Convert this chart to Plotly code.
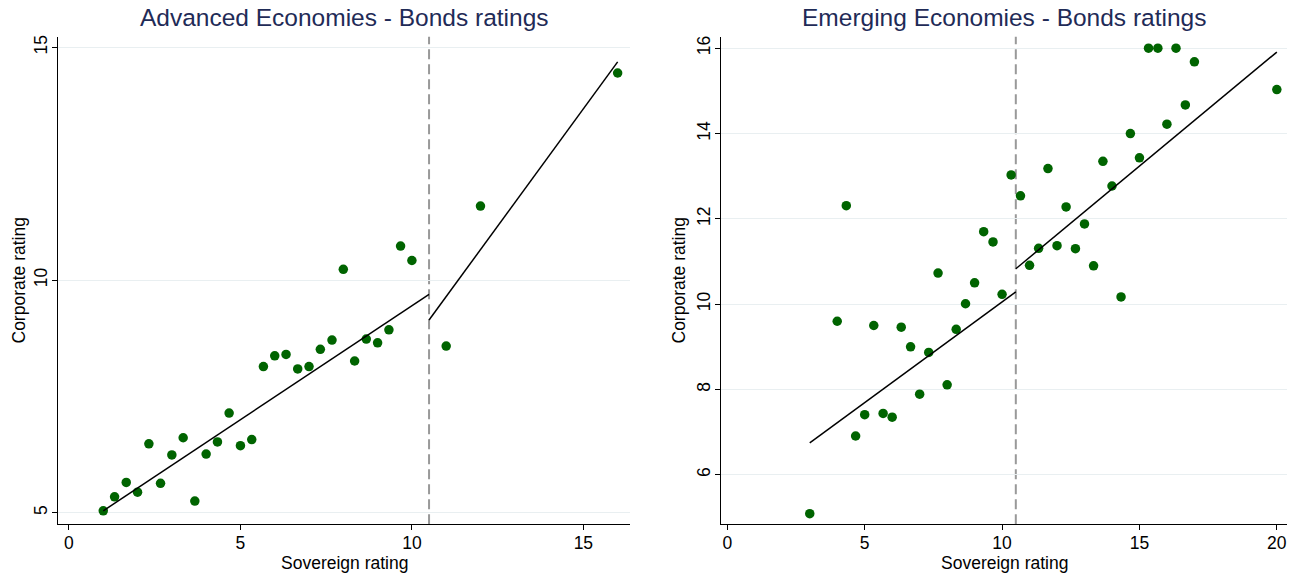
import plotly.graph_objects as go

# ---------------- Data ----------------
cutoff = 10.5

adv_sov = [1, 1.33, 1.67, 2, 2.33, 2.67, 3, 3.33, 3.67, 4, 4.33, 4.67, 5, 5.33, 5.67,
           6, 6.33, 6.67, 7, 7.33, 7.67, 8, 8.33, 8.67, 9, 9.33, 9.67, 10, 11, 12, 16]
adv_corp = [5.04, 5.34, 5.65, 5.44, 6.48, 5.63, 6.24, 6.61, 5.25, 6.26, 6.52, 7.14, 6.44, 6.57, 8.14,
            8.37, 8.40, 8.09, 8.14, 8.51, 8.71, 10.23, 8.26, 8.73, 8.65, 8.93, 10.73, 10.42, 8.58, 11.59, 14.45]
adv_fit_lo_x = [1, 10.5]
adv_fit_lo_y = [5.04, 9.69]
adv_fit_hi_x = [10.5, 16]
adv_fit_hi_y = [9.14, 14.69]

emg_sov = [3, 4, 4.33, 4.67, 5, 5.33, 5.67, 6, 6.33, 6.67, 7, 7.33, 7.67, 8, 8.33, 8.67, 9,
           9.33, 9.67, 10, 10.33, 10.67, 11, 11.33, 11.67, 12, 12.33, 12.67, 13, 13.33, 13.67,
           14, 14.33, 14.67, 15, 15.33, 15.67, 16, 16.33, 16.67, 17, 20]
emg_corp = [5.09, 9.60, 12.31, 6.91, 7.41, 9.50, 7.44, 7.35, 9.46, 9.00, 7.89, 8.87, 10.73, 8.11, 9.41, 10.01, 10.50,
            11.70, 11.46, 10.23, 13.03, 12.54, 10.91, 11.31, 13.18, 11.37, 12.28, 11.30, 11.88, 10.90, 13.35,
            12.77, 10.17, 14.00, 13.43, 16.0, 16.0, 14.22, 16.0, 14.67, 15.68, 15.03]
emg_fit_lo_x = [3, 10.5]
emg_fit_lo_y = [6.75, 10.29]
emg_fit_hi_x = [10.5, 20]
emg_fit_hi_y = [10.83, 15.91]

adv_xticks = [0, 5, 10, 15]
adv_yticks = [5, 10, 15]
emg_xticks = [0, 5, 10, 15, 20]
emg_yticks = [6, 8, 10, 12, 14, 16]

titles = ["Advanced Economies - Bonds ratings", "Emerging Economies - Bonds ratings"]
x_title = "Sovereign rating"
y_title = "Corporate rating"

# ---------------- Styles ----------------
W, H = 1302, 577
OFF = 0  # body margin is removed in the page (see post_script)
FONT = "Liberation Sans, Arial, sans-serif"
GREEN = "#006400"
TITLE_COLOR = "#1f2b57"
GRID = "#e9eff1"

fig = go.Figure()

def add_panel(xs, ys, fx1, fy1, fx2, fy2, xa, ya):
    fig.add_trace(go.Scatter(x=xs, y=ys, mode="markers", xaxis=xa, yaxis=ya,
                             marker=dict(color=GREEN, size=9.5, line=dict(width=0)),
                             showlegend=False, hoverinfo="x+y"))
    for fx, fy in ((fx1, fy1), (fx2, fy2)):
        fig.add_trace(go.Scatter(x=fx, y=fy, mode="lines", xaxis=xa, yaxis=ya,
                                 line=dict(color="black", width=1.5),
                                 showlegend=False, hoverinfo="skip"))

add_panel(adv_sov, adv_corp, adv_fit_lo_x, adv_fit_lo_y, adv_fit_hi_x, adv_fit_hi_y, "x", "y")
add_panel(emg_sov, emg_corp, emg_fit_lo_x, emg_fit_lo_y, emg_fit_hi_x, emg_fit_hi_y, "x2", "y2")

def px(v):
    return (v - OFF) / W

def py(v):
    return 1 - (v - OFF) / H

ydom = [py(524.3), py(36.7)]
TICK_SIZE = 17.5
TITLE_SIZE = 17.5

def xaxis(dom, rng, ticks, anchor):
    return dict(domain=dom, range=rng, tickvals=ticks, anchor=anchor, automargin=False,
                showline=True, linecolor="black", linewidth=1,
                ticks="outside", ticklen=5, tickcolor="black", tickwidth=1,
                showgrid=False, zeroline=False, ticklabelstandoff=-2,
                tickfont=dict(family=FONT, size=TICK_SIZE, color="black"))

def yaxis(rng, ticks, anchor):
    return dict(domain=ydom, range=rng, tickvals=ticks, anchor=anchor, automargin=False,
                showline=True, linecolor="black", linewidth=1,
                ticks="outside", ticklen=5, tickcolor="black", tickwidth=1,
                showgrid=True, gridcolor=GRID, gridwidth=1, zeroline=False,
                tickangle=-90, ticklabelstandoff=-2,
                tickfont=dict(family=FONT, size=TICK_SIZE, color="black"))

panels = [(58, 630), (721, 1287)]

fig.update_layout(
    width=W, height=H,
    margin=dict(l=0, r=0, t=0, b=0),
    paper_bgcolor="white", plot_bgcolor="white",
    xaxis=xaxis([px(58), px(630)], [-0.32, 16.36], adv_xticks, "y"),
    yaxis=yaxis([4.75, 15.23], adv_yticks, "x"),
    xaxis2=xaxis([px(721), px(1287)], [-0.23, 20.37], emg_xticks, "y2"),
    yaxis2=yaxis([4.84, 16.27], emg_yticks, "x2"),
)

for xr, yr in (("x", "y"), ("x2", "y2")):
    fig.add_shape(type="line", xref=xr, yref=yr + " domain", x0=cutoff, x1=cutoff, y0=0, y1=1,
                  line=dict(color="#999999", width=2, dash="10px,5px"), layer="below")

ytitle_x = [18, 678]
for i, t in enumerate(titles):
    l, r = panels[i]
    cx = (l + r) / 2
    fig.add_annotation(text=t, xref="paper", yref="paper", x=px(cx), y=py(18),
                       xanchor="center", yanchor="middle", showarrow=False,
                       font=dict(family=FONT, size=24.5, color=TITLE_COLOR))
    fig.add_annotation(text=x_title, xref="paper", yref="paper", x=px(cx), y=py(563),
                       xanchor="center", yanchor="middle", showarrow=False,
                       font=dict(family=FONT, size=TITLE_SIZE, color="black"))
    fig.add_annotation(text=y_title, xref="paper", yref="paper", x=px(ytitle_x[i]),
                       y=py((36.7 + 524.3) / 2), textangle=-90,
                       xanchor="center", yanchor="middle", showarrow=False,
                       font=dict(family=FONT, size=TITLE_SIZE, color="black"))

fig.write_html("out.html", config={"displayModeBar": False},
               post_script="document.body.style.margin='0';document.body.style.overflow='hidden';")
